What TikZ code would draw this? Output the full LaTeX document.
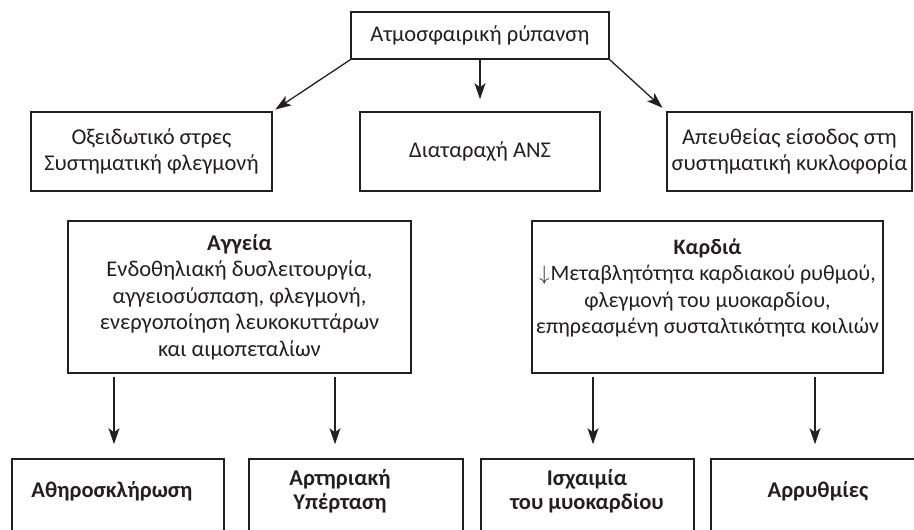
\documentclass[tikz,border=0pt]{standalone}
\usepackage{fontspec}
\setmainfont{Carlito}
\usetikzlibrary{arrows.meta}
\definecolor{ink}{HTML}{231F20}
\begin{document}
\begin{tikzpicture}[x=1pt,y=-1pt,
  box/.style={draw=ink, line width=1.6pt, inner sep=0pt, align=center, text=ink,
    font=\fontsize{22.5}{26.5}\selectfont},
  txt/.style={inner sep=0pt, align=center, text=ink, font=\fontsize{22}{26.5}\selectfont},
  btxt/.style={inner sep=0pt, align=center, text=ink, font=\bfseries\fontsize{22.5}{23.5}\selectfont},
  arr/.style={draw=ink, line width=1.3pt, -{Stealth[length=16pt,width=11pt,inset=4pt]}}
]
\useasboundingbox (0,0) rectangle (914,530);
% row 1
\node[box, minimum width=258pt, minimum height=47pt] (top) at (480,35.5) {Ατμοσφαιρική ρύπανση};
% row 2
\node[box, minimum width=241pt, minimum height=79pt] (ox) at (151.5,151.5) {Οξειδωτικό στρες\\Συστηματική φλεγμονή};
\node[box, minimum width=240pt, minimum height=79pt] (ans) at (480,151.5) {Διαταραχή ΑΝΣ};
\node[box, minimum width=245pt, minimum height=79pt] (ape) at (789.5,151.5) {Απευθείας είσοδος στη\\συστηματική κυκλοφορία};
% row 3
\node[box, minimum width=343pt, minimum height=152pt] (agg) at (239.5,297) {\textbf{Αγγεία}\\Ενδοθηλιακή δυσλειτουργία,\\αγγειοσύσπαση, φλεγμονή,\\ενεργοποίηση λευκοκυττάρων\\και αιμοπεταλίων};
\node[box, minimum width=351pt, minimum height=152pt] (kar) at (707.5,297) {};
\node[txt] (kart) at (707.5,288) {\textbf{Καρδιά}\\$\downarrow$\hspace{1pt}Μεταβλητότητα καρδιακού ρυθμού,\\φλεγμονή του μυοκαρδίου,\\επηρεασμένη συσταλτικότητα κοιλιών};
% row 4
\node[box, minimum width=212pt, minimum height=86pt] (b1) at (118,502) {};
\node[box, minimum width=214pt, minimum height=86pt] (b2) at (356,502) {};
\node[box, minimum width=213pt, minimum height=86pt] (b3) at (587.5,502) {};
\node[box, minimum width=214pt, minimum height=86pt] (b4) at (818,502) {};
\node[btxt] (b1t) at (112,491) {Αθηροσκλήρωση};
\node[btxt] (b2t) at (340,491) {Αρτηριακή\\Υπέρταση};
\node[btxt] (b3t) at (587,491) {Ισχαιμία\\του μυοκαρδίου};
\node[btxt] (b4t) at (818,491) {Αρρυθμίες};
% arrows
\draw[arr, shorten >=3pt] (top.south west) -- (ox.north east);
\draw[arr, shorten >=12pt] (top.south) -- (ans.north);
\draw[arr, shorten >=5pt] (top.south east) -- (ape.north west);
\coordinate (x1) at (114,0);
\coordinate (x2) at (335,0);
\coordinate (x3) at (593,0);
\coordinate (x4) at (815,0);
\draw[arr, shorten <=3pt, shorten >=14pt] (agg.south -| x1) -- (b1.north -| x1);
\draw[arr, shorten <=3pt, shorten >=14pt] (agg.south -| x2) -- (b2.north -| x2);
\draw[arr, shorten <=3pt, shorten >=14pt] (kar.south -| x3) -- (b3.north -| x3);
\draw[arr, shorten <=3pt, shorten >=14pt] (kar.south -| x4) -- (b4.north -| x4);
\end{tikzpicture}
\end{document}
